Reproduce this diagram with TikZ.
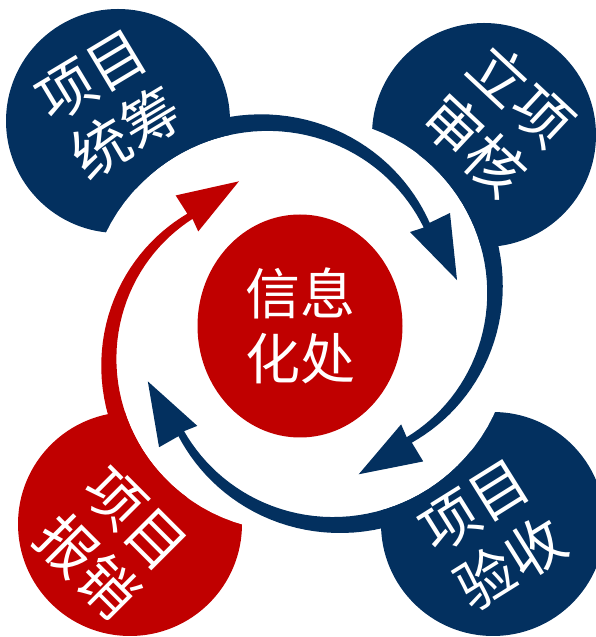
\documentclass[tikz,border=0pt]{standalone}
\usepackage{fontspec}
\setmainfont{Noto Sans CJK SC}
\usepackage{tikz}
\usetikzlibrary{shapes.geometric}
\definecolor{cyNavy}{HTML}{03305F}
\definecolor{cyRed}{HTML}{C00000}

\tikzset{
  bubble/.style={circle, minimum size=224pt, inner sep=0pt},
  cntext/.style={text=white, align=center, inner sep=0pt, font=\fontsize{58}{68}\selectfont},
  cutout/.pic={
    \fill[white] (0,0) -- plot[domain=38.5:168, samples=40] (\x:{176.2+39.2*cos(\x-156)}) -- cycle;
  },
  cyclearrow/.pic={
    \fill[pic actions] plot[domain=140:38.5, samples=40] (\x:{188+48.2*cos(\x-156)})
      -- (37:187.8) -- (16.3:163.6) -- (40.5:144.7)
      -- plot[domain=38.5:140, samples=40] (\x:{176.2+39.2*cos(\x-156)}) -- cycle;
  }
}

\begin{document}
\begin{tikzpicture}[x=1pt, y=1pt]
    \useasboundingbox (0,0) rectangle (595,637);
    \coordinate (ctr) at (300,311);

    % Corner bubbles
    \node[bubble, fill=cyNavy] at (118,516) (plan) {};
    \node[bubble, fill=cyNavy] at (484,502) (review) {};
    \node[bubble, fill=cyNavy] at (493,113) (accept) {};
    \node[bubble, fill=cyRed] at (130,113) (claim) {};

    % White gaps inside the ring
    \begin{scope}[shift={(ctr)}]
        \pic at (0,0) {cutout};
        \pic[rotate=-84.7, scale=0.975] at (0,0) {cutout};
        \pic[rotate=-176.3, scale=0.99] at (0,0) {cutout};
        \pic[rotate=96.6, scale=0.96] at (0,0) {cutout};

        % Cycle arrows
        \pic[fill=cyNavy] at (0,0) {cyclearrow};
        \pic[fill=cyNavy, rotate=-84.7, scale=0.975] at (0,0) {cyclearrow};
        \pic[fill=cyNavy, rotate=-176.3, scale=0.99] at (0,0) {cyclearrow};
        \pic[fill=cyRed, rotate=96.6, scale=0.96] at (0,0) {cyclearrow};
    \end{scope}

    % Centre
    \node[ellipse, fill=cyRed, minimum width=205pt, minimum height=223pt, inner sep=0pt, text=white, align=center, font=\fontsize{55}{65}\selectfont] at (ctr) (office) {信息\\化处};

    % Bubble labels
    \node[cntext, rotate=31] at (109,532) (plantext) {项目\\统筹};
    \node[cntext, rotate=-43] at (498,517) (reviewtext) {立项\\审核};
    \node[cntext, rotate=32] at (493,102) (accepttext) {项目\\验收};
    \node[cntext, rotate=-45] at (111,94) (claimtext) {项目\\报销};
\end{tikzpicture}
\end{document}
